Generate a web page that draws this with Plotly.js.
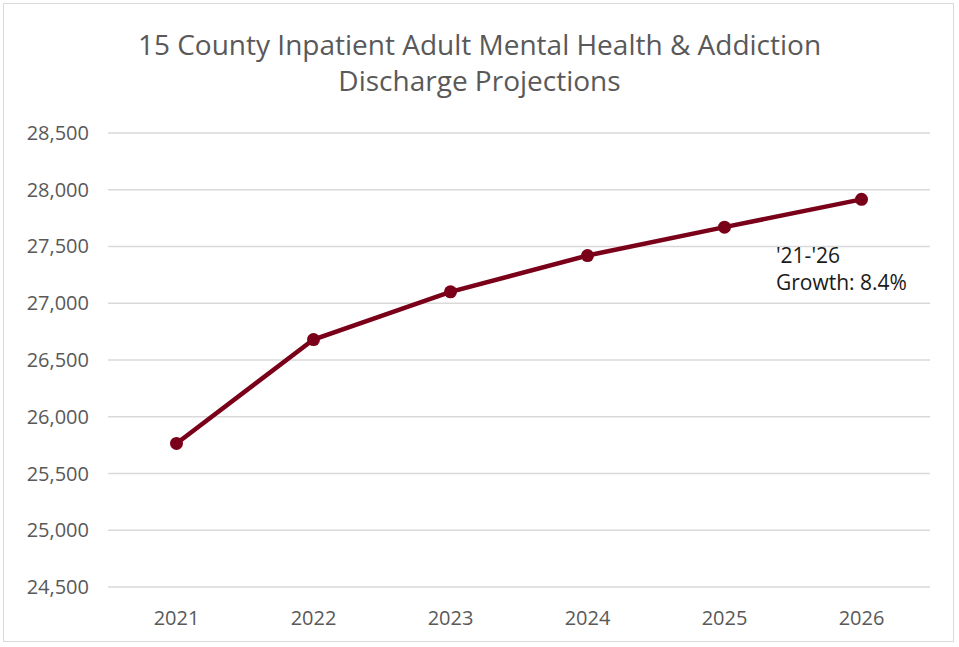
<!DOCTYPE html>
<html>
<head>
<meta charset="utf-8">
<script src="https://cdn.plot.ly/plotly-3.0.1.min.js"></script>
<style>
html,body{margin:0;padding:0;background:#fff;}
#chart{width:959px;height:647px;}
#frame{position:absolute;left:3px;top:3px;width:951px;height:639px;border:1px solid #d9d9d9;pointer-events:none;box-sizing:border-box;}
</style>
</head>
<body>
<div id="chart"></div>
<div id="frame"></div>
<script>
const years = ['2021','2022','2023','2024','2025','2026'];
const discharges = [25765, 26680, 27100, 27420, 27670, 27915];
const yTicks = [24500,25000,25500,26000,26500,27000,27500,28000,28500];
const yTickText = ['24,500','25,000','25,500','26,000','26,500','27,000','27,500','28,000','28,500'];
const growthNote = "'21-'26<br>Growth: 8.4%";

const font = "Open Sans, Noto Sans, sans-serif";
const gridShapes = yTicks.map(v => ({type: 'line', xref: 'paper', yref: 'y', x0: 0, x1: 1, y0: v, y1: v,
  line: {color: '#d9d9d9', width: 1.5}, layer: 'below'}));
Plotly.newPlot('chart', [{
  x: years, y: discharges, type: 'scatter', mode: 'lines+markers',
  line: {color: '#7a0019', width: 4.5},
  marker: {color: '#7a0019', size: 13},
  hoverinfo: 'x+y'
}], {
  width: 959, height: 647,
  margin: {l: 108, r: 29, t: 132, b: 59},
  paper_bgcolor: '#fff', plot_bgcolor: '#fff',
  showlegend: false,
  shapes: gridShapes,
  title: {text: '15 County Inpatient Adult Mental Health & Addiction<br>Discharge Projections',
    font: {family: font, size: 28, color: '#595959'}, x: 0.5, xanchor: 'center', y: 0.915, yanchor: 'middle'},
  xaxis: {type: 'category', range: [-0.5, 5.5], showgrid: false, zeroline: false, showline: false, ticks: '',
    tickfont: {family: font, size: 20, color: '#595959'}, ticklabelstandoff: 16},
  yaxis: {range: [24492, 28508], tickvals: yTicks, ticktext: yTickText, showgrid: false,
    zeroline: false, showline: false, ticks: '',
    tickfont: {family: font, size: 20, color: '#595959'}, ticklabelstandoff: 18},
  annotations: [{x: 4.36, y: 27570, xref: 'x', yref: 'y', text: growthNote, showarrow: false,
    xanchor: 'left', yanchor: 'top', align: 'left',
    font: {family: font, size: 21, color: '#1a1a1a'}}]
}, {displayModeBar: false, staticPlot: true});
</script>
</body>
</html>
